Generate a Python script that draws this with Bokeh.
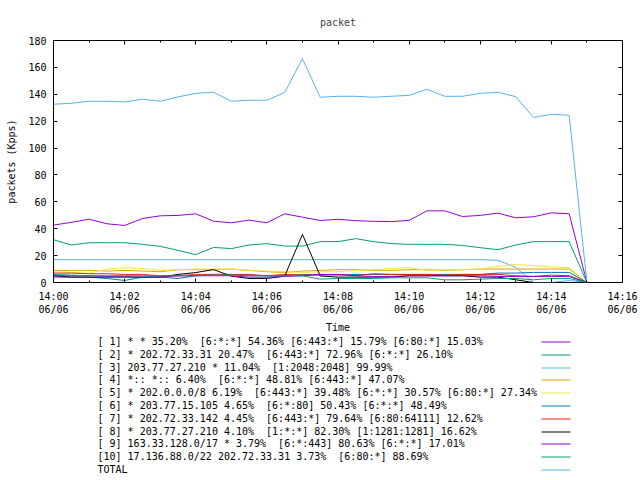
import pandas as pd
from bokeh.plotting import figure
from bokeh.layouts import column
from bokeh.models import FixedTicker, DatetimeTickFormatter, LinearAxis, DatetimeAxis, Range1d
from bokeh.core.properties import value
from bokeh.embed import file_html
from bokeh.resources import INLINE

FONT = "DejaVu Sans Mono"
DAY = "2024-06-06 "

times = ["14:00:00", "14:00:30", "14:01:00", "14:01:30", "14:02:00", "14:02:30",
         "14:03:00", "14:03:30", "14:04:00", "14:04:30", "14:05:00", "14:05:30",
         "14:06:00", "14:06:30", "14:07:00", "14:07:30", "14:08:00", "14:08:30",
         "14:09:00", "14:09:30", "14:10:00", "14:10:30", "14:11:00", "14:11:30",
         "14:12:00", "14:12:30", "14:13:00", "14:13:30", "14:14:00", "14:14:30",
         "14:15:00"]

s1 = [42.7, 44.7, 47.1, 43.7, 42.4, 47.6, 49.6, 49.9, 51.1, 45.6, 44.4, 46.4, 44.4, 51.1, 48.6, 46.1,
      47.0, 46.0, 45.5, 45.3, 46.2, 53.3, 53.3, 49.1, 49.9, 51.6, 48.1, 48.9, 51.8, 51.1, 0]
s2 = [31.8, 27.9, 29.6, 29.6, 29.6, 28.4, 26.9, 23.9, 20.7, 26.1, 25.2, 27.9, 28.9, 27.1, 27.1, 30.4,
      30.4, 32.6, 30.4, 28.9, 28.4, 28.4, 28.4, 27.6, 25.9, 24.4, 27.9, 30.4, 30.4, 30.4, 0]
s3 = [17.0, 17.0, 17.0, 17.0, 17.0, 17.0, 17.0, 17.0, 17.0, 17.0, 17.0, 17.0, 17.0, 17.0, 17.0, 17.0,
      17.0, 17.0, 17.0, 17.0, 17.0, 17.0, 17.0, 17.0, 17.0, 16.5, 11.3, 0, 0, 1.5, 0]
s4 = [9.0, 9.0, 9.0, 8.5, 9.0, 8.5, 8.0, 9.5, 9.5, 9.5, 10.0, 9.0, 8.0, 7.5, 8.5, 9.0,
      9.5, 9.5, 9.0, 9.0, 9.5, 9.5, 9.0, 9.5, 10.0, 10.0, 10.0, 10.0, 10.0, 10.0, 0]
s5 = [8.0, 7.5, 7.0, 10.0, 11.0, 10.5, 9.0, 9.5, 10.0, 10.0, 10.0, 9.0, 8.5, 8.0, 7.5, 8.0,
      8.0, 9.0, 9.5, 10.5, 11.0, 9.0, 9.5, 9.5, 10.0, 12.0, 13.5, 12.5, 11.5, 11.0, 0]
s6 = [4.0, 4.0, 4.0, 3.0, 1.5, 4.0, 4.0, 3.0, 5.0, 6.0, 6.0, 5.5, 5.0, 5.0, 6.0, 6.0,
      5.5, 6.0, 6.0, 6.0, 6.0, 6.0, 6.0, 6.0, 6.0, 7.0, 7.0, 7.5, 7.5, 7.5, 0]
s7 = [7.0, 7.0, 6.5, 6.5, 6.0, 6.0, 5.0, 5.0, 6.0, 6.0, 6.0, 6.0, 5.0, 6.0, 5.5, 5.5,
      6.0, 5.0, 6.5, 6.0, 6.0, 6.0, 5.5, 6.0, 6.0, 6.0, 5.0, 4.5, 5.5, 5.0, 0]
s8 = [5.0, 4.0, 4.0, 4.0, 4.0, 4.0, 4.0, 6.0, 7.4, 9.6, 4.7, 3.0, 3.0, 4.7, 35.8, 4.9,
      4.0, 4.0, 4.0, 4.0, 5.0, 5.0, 5.0, 5.0, 4.0, 4.0, 2.0, 0, 0, 0, 0]
s9 = [5.0, 5.0, 5.0, 4.5, 4.5, 4.0, 4.0, 5.0, 5.0, 5.0, 5.0, 4.0, 4.0, 4.5, 5.0, 6.0,
      6.0, 5.0, 4.5, 4.5, 5.0, 5.0, 5.0, 5.0, 5.0, 4.5, 4.5, 4.5, 4.5, 4.5, 0]
s10 = [6.0, 5.5, 5.0, 5.0, 5.0, 5.0, 5.0, 5.0, 5.0, 5.5, 5.5, 5.0, 5.0, 5.0, 5.0, 2.5,
       3.0, 3.0, 3.0, 3.5, 3.5, 3.5, 2.0, 2.0, 2.5, 3.0, 3.0, 2.0, 3.0, 3.0, 0]
total = [132.6, 133.3, 134.8, 134.8, 134.3, 136.3, 134.8, 138.0, 140.7, 141.5, 134.8, 135.6, 135.6,
         141.3, 166.5, 137.8, 138.5, 138.5, 137.8, 138.5, 139.2, 143.7, 138.5, 138.5, 140.7, 141.5,
         138.2, 122.7, 125.2, 124.4, 0]

labels = [
    "[ 1] * * 35.20%  [6:*:*] 54.36% [6:443:*] 15.79% [6:80:*] 15.03%",
    "[ 2] * 202.72.33.31 20.47%  [6:443:*] 72.96% [6:*:*] 26.10%",
    "[ 3] 203.77.27.210 * 11.04%  [1:2048:2048] 99.99%",
    "[ 4] *:: *:: 6.40%  [6:*:*] 48.81% [6:443:*] 47.07%",
    "[ 5] * 202.0.0.0/8 6.19%  [6:443:*] 39.48% [6:*:*] 30.57% [6:80:*] 27.34%",
    "[ 6] * 203.77.15.105 4.65%  [6:*:80] 50.43% [6:*:*] 48.49%",
    "[ 7] * 202.72.33.142 4.45%  [6:443:*] 79.64% [6:80:64111] 12.62%",
    "[ 8] * 203.77.27.210 4.10%  [1:*:*] 82.30% [1:1281:1281] 16.62%",
    "[ 9] 163.33.128.0/17 * 3.79%  [6:*:443] 80.63% [6:*:*] 17.01%",
    "[10] 17.136.88.0/22 202.72.33.31 3.73%  [6:80:*] 88.69%",
    "TOTAL",
]
colors = ["#9400d3", "#009e73", "#56b4e9", "#e69f00", "#f0e442", "#0072b2",
          "#e51e10", "#000000", "#9400d3", "#009e73", "#56b4e9"]
series = [s1, s2, s3, s4, s5, s6, s7, s8, s9, s10, total]

major_ticks = ["14:00", "14:02", "14:04", "14:06", "14:08", "14:10", "14:12", "14:14", "14:16"]
minor_ticks = ["14:01", "14:03", "14:05", "14:07", "14:09", "14:11", "14:13", "14:15"]
y_ticks = [0, 20, 40, 60, 80, 100, 120, 140, 160, 180]


def ms(t):
    return pd.Timestamp(DAY + t).value / 1e6


x = pd.to_datetime([DAY + t for t in times])

W = 640
H1 = 335
H2 = 145
LEFT, RIGHT = 53, 18

p = figure(width=W, height=H1, x_axis_type="datetime", output_backend="svg", toolbar_location=None,
           x_range=Range1d(pd.Timestamp(DAY + "14:00"), pd.Timestamp(DAY + "14:16")),
           y_range=Range1d(0, 180),
           min_border_left=LEFT, min_border_right=RIGHT, min_border_top=40, min_border_bottom=H1 - 282)
p.outline_line_color = "black"
p.outline_line_width = 1
p.xgrid.visible = False
p.ygrid.visible = False
p.background_fill_color = "white"
p.border_fill_color = "white"

xt = FixedTicker(ticks=[ms(t) for t in major_ticks], minor_ticks=[ms(t) for t in minor_ticks])
fmt = "%H:%M\n%m/%d"
xf = DatetimeTickFormatter(microseconds=fmt, milliseconds=fmt, seconds=fmt, minsec=fmt, minutes=fmt,
                           hourmin=fmt, hours=fmt, days=fmt, months=fmt, years=fmt)
yt = FixedTicker(ticks=y_ticks, minor_ticks=[])

for ax in p.xaxis:
    ax.ticker = xt
    ax.formatter = xf
for ax in p.yaxis:
    ax.ticker = yt

common = dict(axis_line_color=None, major_tick_in=4, major_tick_out=0, minor_tick_in=2, minor_tick_out=0,
              major_tick_line_color="black", minor_tick_line_color="black",
              major_label_text_font=FONT, major_label_text_font_size="10px", major_label_text_color="black",
              axis_label_text_font=FONT, axis_label_text_font_size="10px",
              axis_label_text_font_style="normal", axis_label_text_color="black")
p.xaxis.update(**common)
p.yaxis.update(**common)
p.xaxis.axis_label = "Time"
p.xaxis.major_label_standoff = 8
p.xaxis.axis_label_standoff = 4
p.yaxis.axis_label = "packets (Kpps)"
p.yaxis.major_label_standoff = 7
p.yaxis.axis_label_standoff = 8

mirror = dict(axis_line_color=None, major_tick_in=4, major_tick_out=0, minor_tick_in=2, minor_tick_out=0,
              major_tick_line_color="black", minor_tick_line_color="black",
              major_label_text_color=None, major_label_text_font_size="1px", major_label_standoff=0)
top_ax = DatetimeAxis(ticker=xt, formatter=xf, **mirror)
right_ax = LinearAxis(ticker=yt, **mirror)
p.add_layout(top_ax, "above")
p.add_layout(right_ax, "right")

p.title.text = "packet"
p.title.align = "center"
p.title.text_font = FONT
p.title.text_font_size = "10px"
p.title.text_font_style = "normal"
p.title.standoff = 25

for s, c in zip(series, colors):
    p.line(x, s, line_color=c, line_width=1)

# legend panel (its frame is aligned with the chart frame: 53..622 px)
q = figure(width=W, height=H2, output_backend="svg", toolbar_location=None,
           x_range=Range1d(LEFT, W - RIGHT), y_range=Range1d(H2, 0),
           min_border_left=LEFT, min_border_right=RIGHT, min_border_top=0, min_border_bottom=0,
           x_axis_location=None, y_axis_location=None)
q.outline_line_color = None
q.xgrid.visible = False
q.ygrid.visible = False
q.background_fill_color = "white"
q.border_fill_color = "white"

shown = [t.replace("  ", " \u00a0") for t in labels]
ys = [341 - H1 + round(12.8 * i) for i in range(len(labels))]
q.text(x=[97] * len(labels), y=ys, text=shown, text_font=value(FONT), text_font_size="10px",
       text_baseline="middle", text_align="left", text_color="black")
q.segment(x0=[541] * len(labels), y0=[y + 0.5 for y in ys], x1=[570] * len(labels),
          y1=[y + 0.5 for y in ys], line_color=colors, line_width=1)

layout = column(p, q, spacing=0)
open("out.html", "w").write(file_html(layout, INLINE))
